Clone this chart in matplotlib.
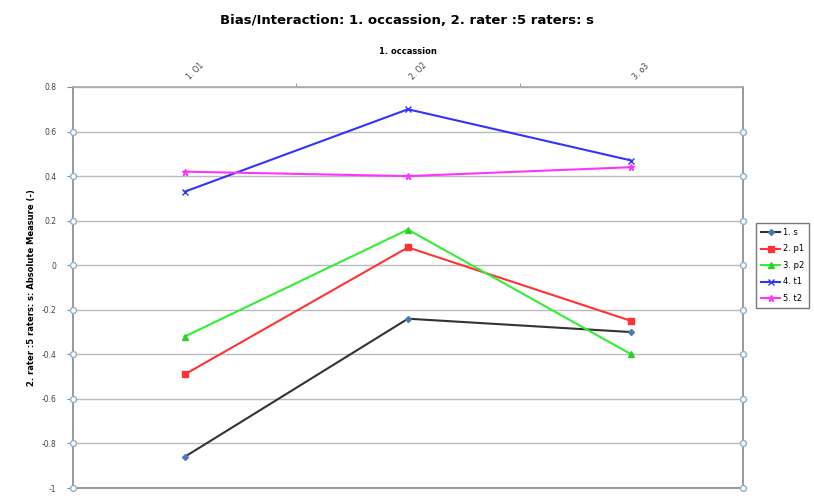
import matplotlib.pyplot as plt
import matplotlib.transforms as mtransforms

occasions = ["1. O1", "2. O2", "3. o3"]
series_names = ["1. s", "2. p1", "3. p2", "4. t1", "5. t2"]
s_vals = [-0.86, -0.24, -0.30]
p1_vals = [-0.49, 0.08, -0.25]
p2_vals = [-0.32, 0.16, -0.40]
t1_vals = [0.33, 0.70, 0.47]
t2_vals = [0.42, 0.40, 0.44]
y_ticks = [-1, -0.8, -0.6, -0.4, -0.2, 0, 0.2, 0.4, 0.6, 0.8]
y_tick_labels = ["-1", "-0.8", "-0.6", "-0.4", "-0.2", "0", "0.2", "0.4", "0.6", "0.8"]

fig = plt.figure(figsize=(8.14, 4.97), dpi=100)
ax = fig.add_axes([0.0897, 0.018, 0.823, 0.807])

x = list(range(len(occasions)))
styles = [
    (s_vals, "#333333", "D", "#4a7ab0", 3),
    (p1_vals, "#ff3333", "s", "#ff3333", 4),
    (p2_vals, "#33ee33", "^", "#33cc33", 4),
    (t1_vals, "#3333ff", "x", "#3333ff", 5),
    (t2_vals, "#ff33ff", "*", "#ff33ff", 5),
]
for (vals, col, mk, mcol, ms), name in zip(styles, series_names):
    ax.plot(x, vals, color=col, lw=1.5, marker=mk, ms=ms,
            mfc=mcol, mec=mcol, label=name)

ax.set_xlim(-0.5, 2.5)
ax.set_ylim(-1, 0.8)
ax.set_yticks(y_ticks)
ax.set_yticklabels(y_tick_labels, fontsize=5.5, color="#444444")
ax.yaxis.grid(True, color="#bbbbbb", lw=1)
ax.set_axisbelow(True)

ax.xaxis.tick_top()
ax.xaxis.set_label_position("top")
ax.set_xticks(x)
ax.set_xticklabels(occasions, rotation=45, fontsize=5.5, color="#444444",
                   ha="left", va="bottom")
ax.set_xticks([0.5, 1.5], minor=True)
ax.tick_params(axis="x", which="major", length=0, pad=4)
ax.tick_params(axis="x", which="minor", length=3, color="#888888")
ax.tick_params(axis="y", length=4, color="#888888", pad=8)
ax.set_xlabel("1. occassion", fontsize=6, fontweight="bold", labelpad=5)
ax.set_ylabel("2. rater :5 raters: s: Absolute Measure (-)", fontsize=6,
              fontweight="bold", labelpad=4)

for sp in ax.spines.values():
    sp.set_color("#888888")
    sp.set_linewidth(1.2)
ax.spines["top"].set_color("#aaaaaa")

# small circles on both vertical axes
trans = mtransforms.blended_transform_factory(ax.transAxes, ax.transData)
for xa in (0, 1):
    ax.scatter([xa] * 9, y_ticks[:-1], transform=trans, s=18, facecolor="white",
               edgecolor="#8fb0cc", lw=1, clip_on=False, zorder=5)

fig.suptitle("Bias/Interaction: 1. occassion, 2. rater :5 raters: s",
             fontsize=9.5, fontweight="bold", y=0.972, x=0.5, va="top")

leg = ax.legend(loc="center left", bbox_to_anchor=(1.02, 0.555), fontsize=6,
                frameon=True, fancybox=False, edgecolor="#555555",
                handlelength=2.2, handletextpad=0.4, borderpad=0.6,
                labelspacing=0.9, borderaxespad=0)
leg.get_frame().set_linewidth(1)

fig.savefig("out.png", dpi=100)
